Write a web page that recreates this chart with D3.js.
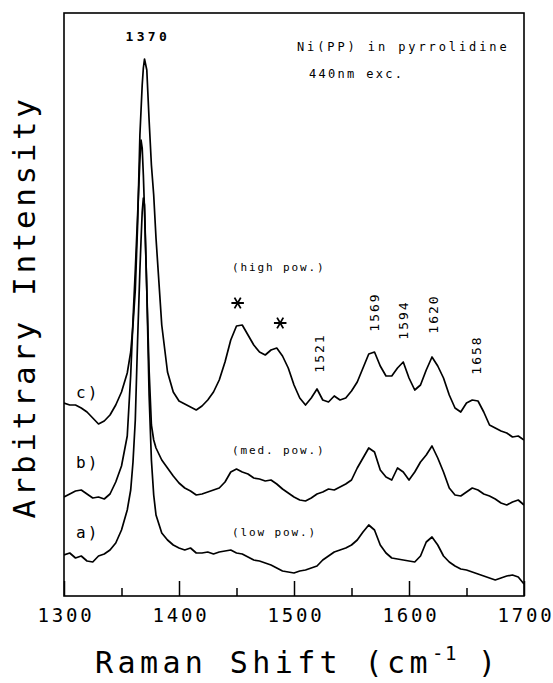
<!DOCTYPE html>
<html><head><meta charset="utf-8">
<script src="https://cdn.jsdelivr.net/npm/d3@7"></script>
<style>
html,body{margin:0;padding:0;background:#fff;}
svg{display:block;}
</style></head><body>
<svg id="chart" width="553" height="683"></svg>
<script>
// Raman shift grid (cm-1)
const shift = [1300,1305,1310,1315,1320,1325,1330,1335,1340,1345,1350,1355,
  1358,1360,1362,1364,1366,1367,1368,1369,1370,1372,1374,1376,1378,1380,
  1385,1390,1395,1400,1405,1410,1415,1420,1425,1430,1435,1440,1445,1450,1455,1460,1465,1470,1475,1480,
  1485,1490,1495,1500,1505,1510,1515,1520,1525,1530,1535,1540,1545,1550,1555,1560,1565,1570,1575,1580,
  1585,1590,1595,1600,1605,1610,1615,1620,1625,1630,1635,1640,1645,1650,1655,1660,1665,1670,1675,1680,
  1685,1690,1695,1700];

// (a) low power
const seriesA = [41,43,38,40,35,34,40,42,46,53,66,86,
  106,134,176,256,326,356,384,398,391,306,201,136,101,81,
  63,56,51,48,46,48,43,43,44,42,44,45,46,43,42,39,36,35,33,31,
  28,25,24,23,25,26,28,30,36,40,44,46,48,51,56,64,71,66,51,43,
  38,37,36,35,34,40,54,59,51,40,34,30,27,26,24,22,20,18,16,18,
  20,21,19,12];

// (b) medium power
const seriesB = [99,102,105,106,102,98,99,97,102,114,130,160,
  221,276,326,381,436,456,448,421,386,306,226,171,156,148,
  136,128,120,113,108,105,101,102,104,106,108,114,124,127,124,122,118,117,115,116,
  112,107,103,99,96,95,98,102,104,107,106,109,112,116,128,138,148,144,126,119,
  116,128,124,116,124,134,141,150,138,124,108,101,100,104,108,106,102,100,97,93,
  91,94,96,91];

// (c) high power
const seriesC = [193,191,191,188,184,178,172,175,181,191,204,223,
  244,271,306,371,461,486,511,528,537,526,476,431,401,358,
  271,224,204,195,192,189,186,190,196,204,216,234,256,270,271,261,251,244,241,246,
  248,240,228,211,198,191,198,207,196,194,200,196,198,205,214,228,242,244,230,220,
  220,228,234,218,206,211,226,239,230,218,201,188,184,193,196,195,184,171,168,165,
  163,159,160,156];

const xTicks = [1300,1400,1500,1600,1700];
const xMinorTicks = [1350,1450,1550,1650];

const traceLabels = ["a)","b)","c)"];
const traceLabelLevel = [64,134,204];
const powerLabels = ["(low pow.)","(med. pow.)","(high pow.)"];
const powerLabelLevel = [64,146,329];

const mainPeak = 1370;
const peakLabels = [1521,1569,1594,1620,1658];
const peakLabelLevel = [242,283,275,281,240];
const starShift = [1451,1488];
const starLevel = [293,273];

const titleLines = ["Ni(PP) in pyrrolidine","440nm exc."];

const FONT = '"DejaVu Sans Mono", monospace';
const svg = d3.select("#chart");
const L = 64, R = 524, T = 13, B = 596;
const x = d3.scaleLinear().domain([1300,1700]).range([L,R]);
const y = d3.scaleLinear().domain([0,583]).range([B,T]);

svg.append("rect").attr("width",553).attr("height",683).attr("fill","#fff");

svg.append("defs").append("clipPath").attr("id","clip")
  .append("rect").attr("x",L).attr("y",T).attr("width",R-L).attr("height",B-T);

// spectra
const line = d3.line().x((d,i)=>x(shift[i])).y(d=>y(d));
const g = svg.append("g").attr("clip-path","url(#clip)");
[seriesA, seriesB, seriesC].forEach(s=>{
  g.append("path").attr("d", line(s)).attr("fill","none")
    .attr("stroke","#000").attr("stroke-width",1.7).attr("stroke-linejoin","round");
});

// frame
svg.append("rect").attr("x",L).attr("y",T).attr("width",R-L).attr("height",B-T)
  .attr("fill","none").attr("stroke","#000").attr("stroke-width",1.6);

// axes (inward ticks)
svg.append("g").attr("transform",`translate(0,${B})`)
  .call(d3.axisBottom(x).tickValues(xMinorTicks).tickSize(-8).tickFormat(""))
  .call(a=>a.select(".domain").remove())
  .call(a=>a.selectAll("line").attr("stroke","#000").attr("stroke-width",1.5));
svg.append("g").attr("transform",`translate(0,${B})`)
  .call(d3.axisBottom(x).tickValues(xTicks).tickSize(-15).tickPadding(13).tickFormat(d3.format("d")))
  .call(a=>a.select(".domain").remove())
  .call(a=>a.selectAll("line").attr("stroke","#000").attr("stroke-width",1.5))
  .call(a=>a.selectAll("text").attr("font-family",FONT).attr("font-size",19)
      .attr("letter-spacing",2.8).attr("dx",1.4).attr("fill","#000"));

// axis titles
const xt = svg.append("text").attr("x",95).attr("y",673)
  .attr("font-family",FONT).attr("font-size",30).attr("letter-spacing",4.4).attr("fill","#000");
xt.append("tspan").text("Raman Shift (cm");
xt.append("tspan").attr("font-size",19).attr("dy",-13).attr("letter-spacing",1.5).text("-1");
xt.append("tspan").attr("dy",13).attr("letter-spacing",2).text(" )");

svg.append("text").attr("transform","translate(35,307) rotate(-90)")
  .attr("text-anchor","middle").attr("font-family",FONT).attr("font-size",31)
  .attr("letter-spacing",3.6).attr("fill","#000").text("Arbitrary Intensity");

// top annotations
svg.append("text").attr("x",x(mainPeak)-19).attr("y",41)
  .attr("font-family",FONT).attr("font-size",13).attr("font-weight","bold")
  .attr("letter-spacing",3.3).attr("fill","#000").text(mainPeak);
svg.append("text").attr("x",297).attr("y",51).attr("font-family",FONT).attr("font-size",12)
  .attr("letter-spacing",2.9).attr("fill","#000").text(titleLines[0]);
svg.append("text").attr("x",309).attr("y",78).attr("font-family",FONT).attr("font-size",12)
  .attr("letter-spacing",2.3).attr("fill","#000").text(titleLines[1]);

// trace labels
traceLabels.forEach((t,i)=>{
  svg.append("text").attr("x",76).attr("y",y(traceLabelLevel[i])).attr("dy","0.35em")
    .attr("font-family",FONT).attr("font-size",16).attr("letter-spacing",2)
    .attr("fill","#000").text(t);
});
powerLabels.forEach((t,i)=>{
  svg.append("text").attr("x",x(1446)).attr("y",y(powerLabelLevel[i])).attr("dy","0.35em")
    .attr("font-family",FONT).attr("font-size",11).attr("letter-spacing",1.9)
    .attr("fill","#000").text(t);
});

// peak labels (vertical)
peakLabels.forEach((p,i)=>{
  const cx = x(p)+1, cy = y(peakLabelLevel[i]);
  svg.append("text").attr("transform",`translate(${cx+4.5},${cy}) rotate(-90)`)
    .attr("text-anchor","middle").attr("font-family",FONT).attr("font-size",13)
    .attr("letter-spacing",2).attr("dx",1).attr("fill","#000").text(p);
});

// stars
starShift.forEach((s,i)=>{
  svg.append("path").attr("transform",`translate(${x(s)},${y(starLevel[i])}) rotate(90)`)
    .attr("d", d3.symbol(d3.symbolAsterisk, 110)())
    .attr("fill","none").attr("stroke","#000").attr("stroke-width",1.8);
});
</script>
</body></html>
